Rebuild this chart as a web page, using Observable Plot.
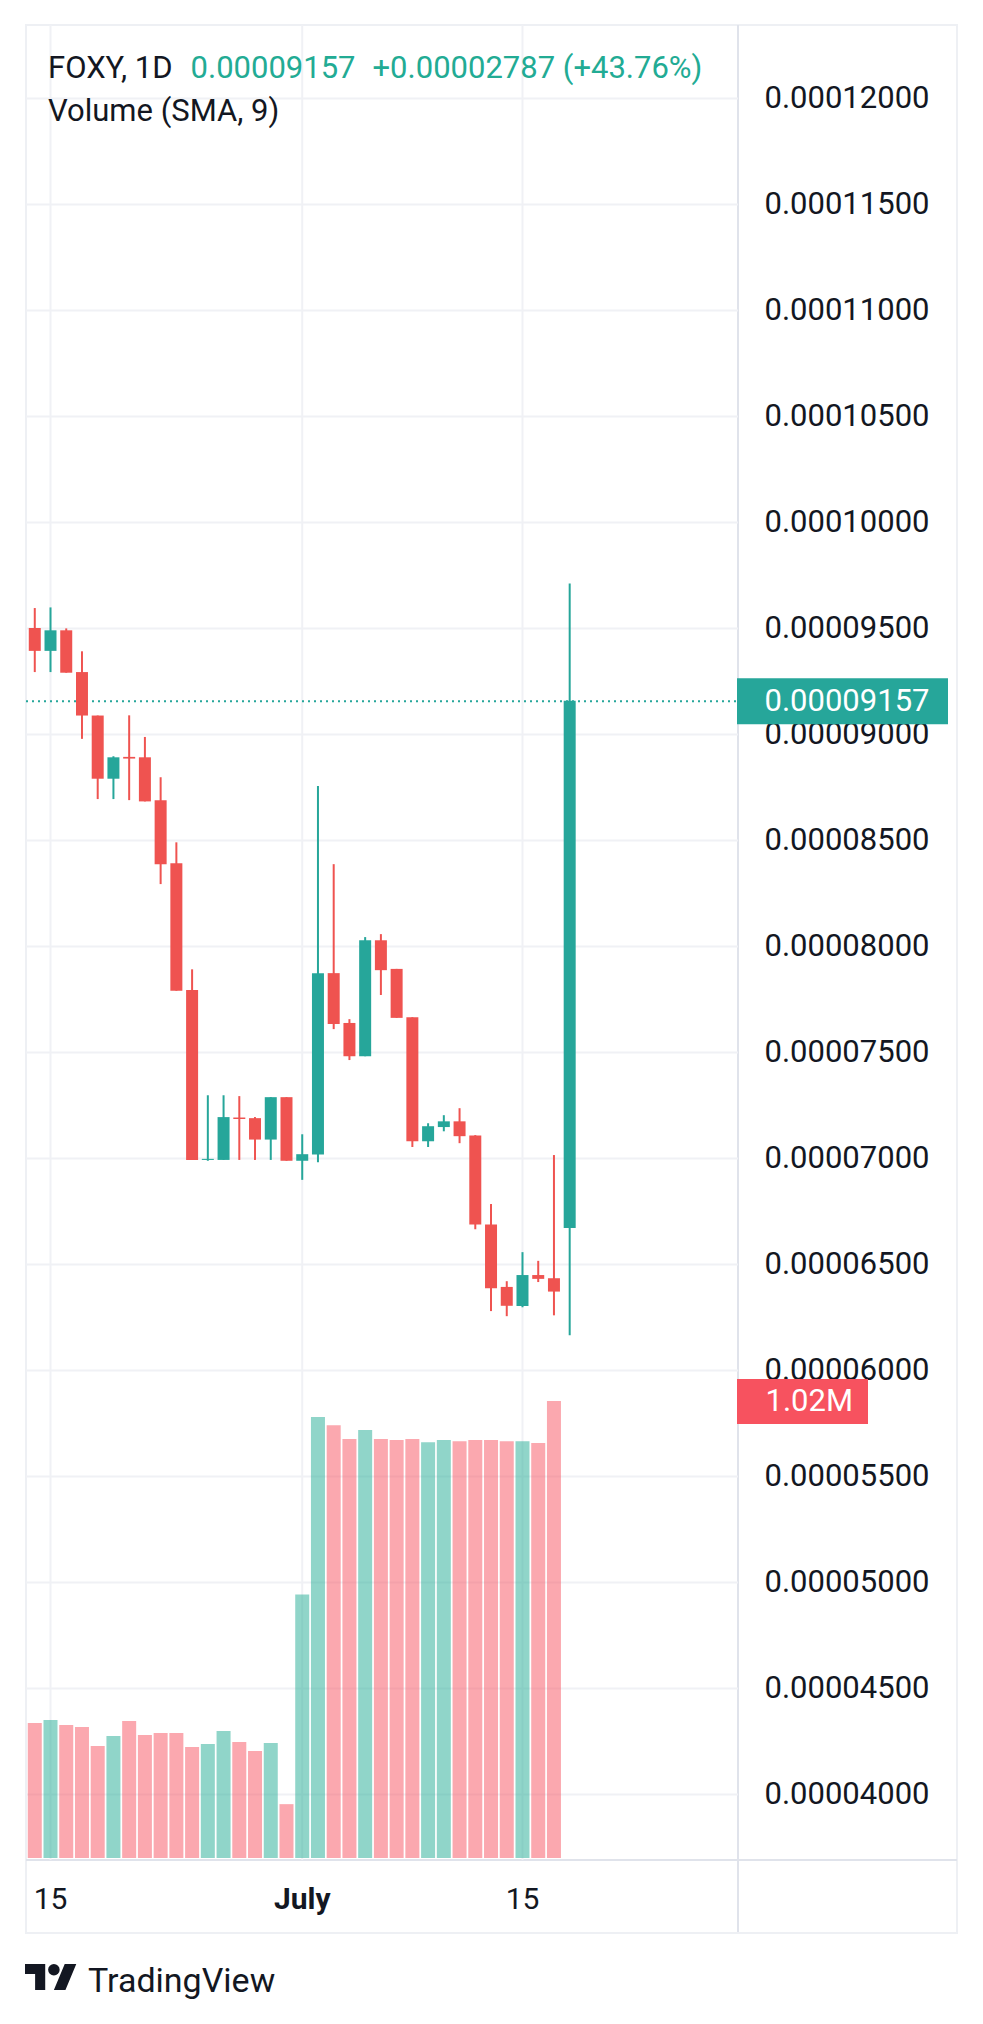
<!DOCTYPE html>
<html>
<head>
<meta charset="utf-8">
<script src="https://cdn.jsdelivr.net/npm/d3@7"></script>
<script src="https://cdn.jsdelivr.net/npm/@observablehq/plot@0.6"></script>
<style>
html, body { margin: 0; padding: 0; background: #fff; }
body { width: 983px; height: 2024px; position: relative; overflow: hidden; font-family: Roboto, sans-serif; color: #131722; }
.abs { position: absolute; }
#outer { left: 25px; top: 24px; width: 929px; height: 1906px; border: 2px solid #eef0f4; }
#divider { left: 737px; top: 25px; width: 2px; height: 1907px; background: #e0e3eb; }
#timeline { left: 26px; top: 1859px; width: 931px; height: 2px; background: #e0e3eb; }
.legend { left: 48px; font-size: 31px; line-height: 42px; white-space: pre; }
.up { color: #22ab94; }
#logo { left: 25px; top: 1964px; }
#logotext { left: 88px; top: 1958px; font-size: 34px; line-height: 44px; color: #131722; }
svg { overflow: visible; }
</style>
</head>
<body>
<div id="outer" class="abs"></div>
<div id="divider" class="abs"></div>
<div id="timeline" class="abs"></div>
<div id="charts"></div>
<div class="abs legend" style="top:47px">FOXY, 1D<span class="up" style="margin-left:18px">0.00009157</span><span class="up" style="margin-left:17px">+0.00002787 (+43.76%)</span></div>
<div class="abs legend" style="top:90px">Volume (SMA, 9)</div>
<svg id="logo" class="abs" width="52" height="26" viewBox="0 4 36 18"><path fill="#131722" d="M14 22H7V11H0V4h14v18zM28 22h-8l7.5-18h8L28 22z"/><circle fill="#131722" cx="20" cy="8" r="4"/></svg>
<div id="logotext" class="abs">TradingView</div>
<script>
// ---- data (prices in units of 1e-8) ----
const days = ["2024-06-14","2024-06-15","2024-06-16","2024-06-17","2024-06-18","2024-06-19","2024-06-20",
  "2024-06-21","2024-06-22","2024-06-23","2024-06-24","2024-06-25","2024-06-26","2024-06-27","2024-06-28",
  "2024-06-29","2024-06-30","2024-07-01","2024-07-02","2024-07-03","2024-07-04","2024-07-05","2024-07-06",
  "2024-07-07","2024-07-08","2024-07-09","2024-07-10","2024-07-11","2024-07-12","2024-07-13","2024-07-14",
  "2024-07-15","2024-07-16","2024-07-17","2024-07-18"];
const open  = [9500,9392,9489,9292,9087,8789,8892,8890,8688,8390,7792,6991,6991,7191,7188,7087,7287,
  6987,7016,7872,7637,7480,8027,7892,7664,7079,7146,7173,7106,6686,6392,6302,6448,6433,6670];
const high  = [9594,9597,9498,9390,9087,8895,9088,8986,8796,8489,7890,7296,7296,7292,7193,7287,7287,
  7112,8755,8386,7655,8042,8056,7892,7664,7164,7202,7235,7108,6783,6419,6556,6515,7014,9710];
const low   = [9292,9292,9289,8977,8693,8693,8688,8682,8292,7789,6991,6987,6991,6991,6991,6991,6987,
  6897,6980,7608,7462,7480,7769,7661,7052,7052,7126,7070,6664,6278,6254,6296,6415,6258,6164];
const close = [9392,9489,9289,9087,8789,8890,8884,8682,8386,7789,6991,6996,7193,7184,7087,7287,6987,
  7018,7872,7632,7480,8027,7886,7661,7079,7150,7173,7103,6686,6386,6303,6448,6430,6370,9157];
// volume in millions, June 14 .. July 17
const volume = [0.3015,0.3082,0.297,0.2925,0.250,0.2724,0.306,0.2746,0.2791,0.2791,0.2478,0.2545,
  0.2836,0.259,0.2388,0.2567,0.1202,0.588,0.984,0.966,0.935,0.955,0.935,0.933,0.935,0.928,0.933,
  0.930,0.933,0.933,0.930,0.930,0.926,1.02];
const yTicks = [0.00004,0.000045,0.00005,0.000055,0.00006,0.000065,0.00007,0.000075,0.00008,
  0.000085,0.00009,0.000095,0.0001,0.000105,0.00011,0.000115,0.00012];
const dayTicks = ["2024-06-15","2024-07-15"];
const monthTicks = ["2024-07-01"];

// ---- styles / layout ----
const P = 1e-8;
const UP = "#26a69a", DOWN = "#ef5350";
const VUP = "rgba(34,171,148,0.5)", VDOWN = "rgba(247,82,95,0.5)";
const GRID = "#f0f1f5";
const W = 983, H = 1940;
const xDomain = [new Date("2024-06-13T11:23Z"), new Date("2024-07-28T17:31Z")];
const yDomain = [0.00003689, 0.00012344];
const vDomain = [0, 4.091e6];

const candles = days.map((d, i) => ({
  date: new Date(d), open: open[i] * P, high: high[i] * P, low: low[i] * P, close: close[i] * P,
  color: close[i] >= open[i] ? UP : DOWN
}));
const vols = volume.map((v, i) => ({
  date: new Date(days[i]), volume: v * 1e6, color: close[i] >= open[i] ? VUP : VDOWN
}));
const lastClose = candles[candles.length - 1].close;
const lastVol = vols[vols.length - 1].volume;
const fmt = d3.format(".8f");

const base = {fontFamily: "Roboto, sans-serif", background: "transparent", overflow: "visible"};

const main = Plot.plot({
  width: W, height: H, marginLeft: 26, marginRight: 245, marginTop: 25, marginBottom: 80,
  x: {type: "utc", domain: xDomain, label: null},
  y: {domain: yDomain, label: null},
  color: {type: "identity"},
  style: base,
  marks: [
    Plot.gridY(yTicks, {stroke: GRID, strokeOpacity: 1, strokeWidth: 2}),
    Plot.gridX(dayTicks.concat(monthTicks).map(d => new Date(d)), {stroke: GRID, strokeOpacity: 1, strokeWidth: 2}),
    Plot.axisY(yTicks, {anchor: "right", tickSize: 0, tickPadding: 26, tickFormat: fmt,
      fontSize: 31, fill: "#131722", textAnchor: "start", label: null}),
    Plot.axisX(dayTicks.map(d => new Date(d)), {anchor: "bottom", tickSize: 0, tickPadding: 27,
      tickFormat: d => String(d.getUTCDate()), fontSize: 30, fill: "#131722", label: null}),
    Plot.axisX(monthTicks.map(d => new Date(d)), {anchor: "bottom", tickSize: 0, tickPadding: 27,
      tickFormat: d3.utcFormat("%B"), fontSize: 30, fontWeight: "bold", fill: "#131722", label: null}),
    Plot.ruleY([lastClose], {stroke: UP, strokeWidth: 2, strokeDasharray: "2,4"}),
    Plot.ruleX(candles, {x: "date", y1: "low", y2: "high", stroke: "color", strokeWidth: 2}),
    Plot.ruleX(candles, {x: "date", y1: "open", y2: "close", stroke: "color", strokeWidth: 12})
  ]
});

const volPlot = Plot.plot({
  width: W, height: H, marginLeft: 26, marginRight: 245, marginTop: 25, marginBottom: 82,
  x: {type: "utc", domain: xDomain, axis: null},
  y: {domain: vDomain, axis: null},
  color: {type: "identity"},
  style: base,
  marks: [
    Plot.ruleX(vols, {x: "date", y1: 0, y2: "volume", stroke: "color", strokeWidth: 14})
  ]
});

const priceTag = Plot.plot({
  width: 211, height: H, marginLeft: 0, marginRight: 0, marginTop: 25, marginBottom: 80,
  y: {domain: yDomain, axis: null},
  style: base,
  marks: [
    Plot.ruleY([lastClose], {stroke: UP, strokeWidth: 46}),
    Plot.text([lastClose], {y: d => d, text: d => fmt(d), frameAnchor: "left", dx: 27,
      textAnchor: "start", fill: "white", fontSize: 31})
  ]
});

const volTag = Plot.plot({
  width: 131, height: H, marginLeft: 0, marginRight: 0, marginTop: 25, marginBottom: 82,
  y: {domain: vDomain, axis: null},
  style: base,
  marks: [
    Plot.ruleY([lastVol], {stroke: "#f7525f", strokeWidth: 45}),
    Plot.text([lastVol], {y: d => d, text: d => (d / 1e6).toFixed(2) + "M", frameAnchor: "left", dx: 28,
      textAnchor: "start", fill: "white", fontSize: 31})
  ]
});

const holder = document.getElementById("charts");
[[main, 0], [volPlot, 0], [priceTag, 737], [volTag, 737]].forEach(([el, left]) => {
  el.style.position = "absolute";
  el.style.left = left + "px";
  el.style.top = "0px";
  el.style.maxWidth = "none";
  holder.appendChild(el);
});
</script>
</body>
</html>
